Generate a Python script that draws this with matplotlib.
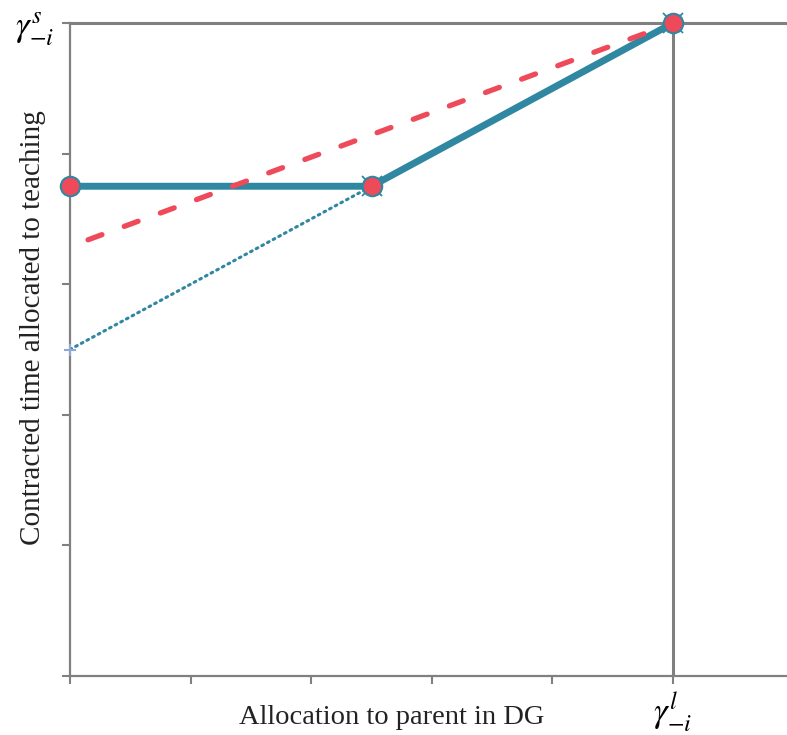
import numpy as np
import matplotlib
matplotlib.use("Agg")
from matplotlib import pyplot as plt

# data (x = allocation to parent, y = contracted teaching time)
solid_x = [0, 2.5, 5]
solid_y = [3.75, 3.75, 5]

dotted_x = [0, 2.5]
dotted_y = [2.5, 3.75]

dashed_x = [0.15, 5]
dashed_y = [3.34, 5]

circle_x = [0, 2.5, 5]
circle_y = [3.75, 3.75, 5]

cross_x = [2.5, 5]
cross_y = [3.75, 5]

x_ticks = [0, 1, 2, 3, 4, 5]
x_ticklabels = ['', '', '', '', '', r'$\gamma^{l}_{-i}$']
y_ticks = [0, 1, 2, 3, 4, 5]
y_ticklabels = ['', '', '', '', '', r'$\gamma^{s}_{-i}$']

teal = '#2F87A1'
red = '#EF4A5A'
grey = '#808080'

plt.rcParams['font.family'] = ['Liberation Serif', 'DejaVu Serif']
plt.rcParams['mathtext.fontset'] = 'stix'

fig = plt.figure(figsize=(7.87, 7.35), dpi=100)
ax = fig.add_axes([70/787, 1 - 676/735, 1 - 70/787, 653/735])

ax.plot(dotted_x, dotted_y, color=teal, lw=2.2, linestyle=(0, (0.6, 1.5)),
        dash_capstyle='round', zorder=2)
ax.plot(dotted_x[:1], dotted_y[:1], marker='+', color='#8FA8D8', ms=9, mew=1.5,
        linestyle='none', clip_on=False, zorder=3)
ax.plot(solid_x, solid_y, color=teal, lw=5, zorder=3, solid_capstyle='butt')
ax.plot(dashed_x, dashed_y, color=red, lw=3.8, dashes=(2.8, 4.5),
        dash_capstyle='round', zorder=4)
ax.plot(cross_x, cross_y, marker='x', color=teal, ms=14, mew=1.3,
        linestyle='none', clip_on=False, zorder=5)
ax.plot(circle_x, circle_y, marker='o', color=red, mec=teal, mew=1.5, ms=14,
        linestyle='none', clip_on=False, zorder=6)

ax.axhline(5, color=grey, lw=2.2, zorder=1, clip_on=False)
ax.axvline(5, color=grey, lw=2.2, zorder=1)

ax.set_xlim(0, 5.945)
ax.set_ylim(0, 5)

for side in ['top', 'right']:
    ax.spines[side].set_visible(False)
for side in ['left', 'bottom']:
    ax.spines[side].set_color(grey)
    ax.spines[side].set_linewidth(1.6)

ax.set_xticks(x_ticks)
ax.set_xticklabels(x_ticklabels, fontsize=25)
ax.set_yticks(y_ticks)
ax.set_yticklabels(y_ticklabels, fontsize=25)
ax.tick_params(axis='both', color=grey, width=1.5, length=6, direction='out')
ax.tick_params(axis='x', pad=4)
ax.tick_params(axis='y', pad=5)

ax.set_xlabel('Allocation to parent in DG', fontsize=20.5, color='#222222')
ax.xaxis.set_label_coords(0.449, -0.044)
ax.set_ylabel('Contracted time allocated to teaching', fontsize=21, color='#222222')
ax.yaxis.set_label_coords(-0.034, 0.534)

fig.savefig('out.png', dpi=100)
